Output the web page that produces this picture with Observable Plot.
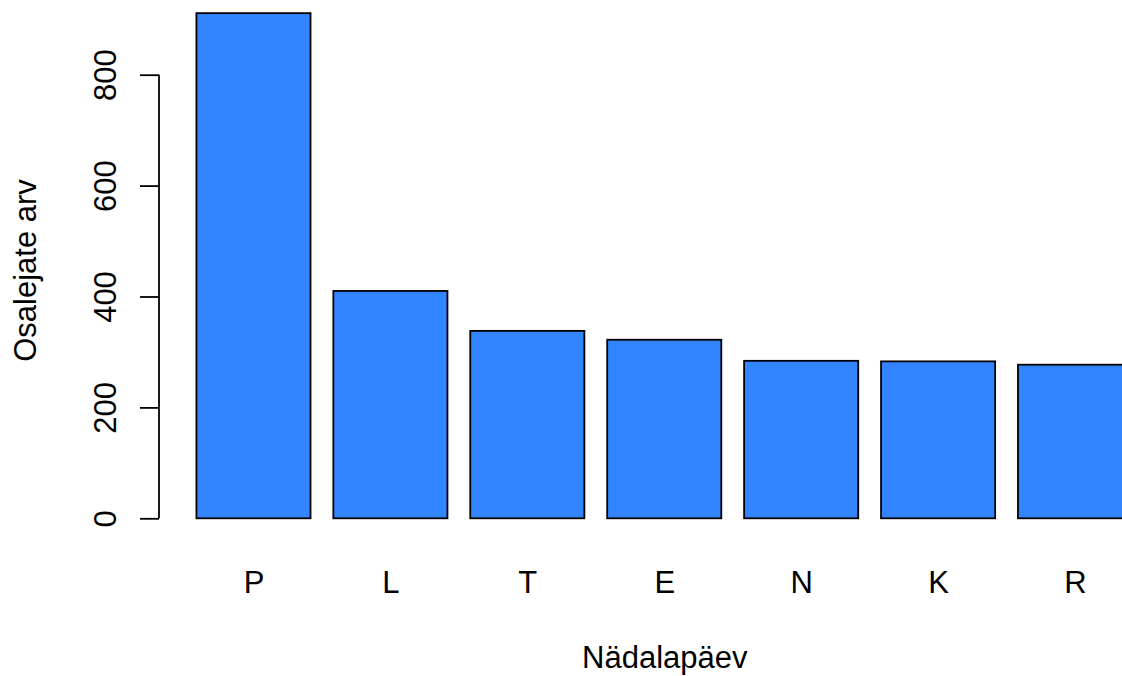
<!DOCTYPE html>
<html>
<head>
<meta charset="utf-8">
<script src="https://cdn.jsdelivr.net/npm/d3@7"></script>
<script src="https://cdn.jsdelivr.net/npm/@observablehq/plot@0.6"></script>
<style>
  html, body { margin: 0; padding: 0; background: white; overflow: hidden; }
  #chart svg { display: block; }
</style>
</head>
<body>
<div id="chart"></div>
<script>
const days = ["P", "L", "T", "E", "N", "K", "R"];
const counts = [911, 410, 338, 322, 284, 283, 277];
const yTicks = [0, 200, 400, 600, 800];
const xTitle = "Nädalapäev";
const yTitle = "Osalejate arv";

const data = days.map((d, i) => ({day: d, value: counts[i]}));

function yAxisLine(index, {y}, values, dims) {
  return d3.create("svg:line")
    .attr("x1", dims.marginLeft).attr("x2", dims.marginLeft)
    .attr("y1", y(yTicks[0])).attr("y2", y(yTicks[yTicks.length - 1]))
    .attr("stroke", "black").attr("stroke-width", 1.8)
    .node();
}

const chart = Plot.plot({
  width: 1122,
  height: 676,
  marginLeft: 159,
  marginRight: -47.5,
  marginTop: 1,
  marginBottom: 137,
  style: {fontFamily: "'Liberation Sans', Arial, sans-serif", fontSize: "31px", color: "black", background: "white"},
  x: {domain: days, paddingInner: 1 / 6, paddingOuter: 0.2733, round: false, label: null},
  y: {domain: [0, 800], range: [518.3, 74.7], label: null},
  marks: [
    Plot.barY(data, {x: "day", y: "value", fill: "#3385FF", stroke: "black", strokeWidth: 1.8}),
    Plot.axisY({ticks: yTicks, tickSize: 19, tickPadding: 25, tickRotate: -90, strokeWidth: 1.8,
      label: yTitle, labelAnchor: "center", labelOffset: 146, labelArrow: "none", fontSize: 31}),
    Plot.axisX({tickSize: 0, tickPadding: 31, label: xTitle, labelAnchor: "center", labelOffset: 128,
      labelArrow: "none", fontSize: 31}),
    yAxisLine
  ]
});
document.getElementById("chart").appendChild(chart);
</script>
</body>
</html>
